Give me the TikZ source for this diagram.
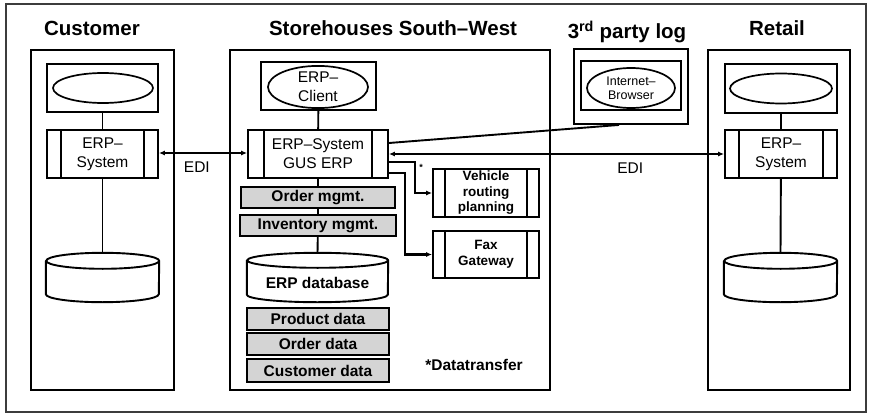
\documentclass[tikz,border=0pt]{standalone}
\usepackage{fontspec}
\setmainfont{Liberation Sans}
\usepackage{xcolor}
\usetikzlibrary{shapes.geometric,arrows.meta}
\definecolor{boxgray}{RGB}{212,212,212}
\definecolor{framegray}{RGB}{60,60,60}
% database drum round a plain node: #1 node, #2 x radius, #3 y radius
\newcommand\dbdraw[3]{\draw[line width=1.9pt]
  ([yshift=-#3]#1.north west) -- ([yshift=#3]#1.south west)
  arc[start angle=180, end angle=360, x radius=#2, y radius=#3]
  -- ([yshift=-#3]#1.north east)
  arc[start angle=0, end angle=180, x radius=#2, y radius=#3]
  arc[start angle=180, end angle=360, x radius=#2, y radius=#3];}

\begin{document}
\begin{tikzpicture}[x=1pt, y=-1pt,
    colbox/.style={draw, line width=1.9pt, minimum width=#1, minimum height=340pt, inner sep=0pt},
    monbox/.style={draw, line width=1.9pt, inner sep=0pt},
    scrn/.style={ellipse, draw, line width=1.7pt, inner sep=0pt, align=center},
    proc/.style={draw, line width=1.9pt, inner sep=0pt, align=center, minimum height=48pt,
                 path picture={
                   \draw[line width=1.9pt] ([xshift=#1]path picture bounding box.north west) -- ([xshift=#1]path picture bounding box.south west);
                   \draw[line width=1.9pt] ([xshift=-#1]path picture bounding box.north east) -- ([xshift=-#1]path picture bounding box.south east);}},
    proc/.default=14pt,
    graybox/.style={draw, line width=1.3pt, fill=boxgray, inner sep=0pt, font=\boldlbl},
    dbase/.style={inner sep=0pt, minimum height=49pt, minimum width=#1},
    link/.style={line width=1.9pt},
    arr/.style={{Latex[length=6pt,width=5pt]}-{Latex[length=6pt,width=5pt]}, line width=2.2pt},
    tarr/.style={-{Latex[length=6pt,width=5pt]}, line width=2.2pt},
    ttl/.style={font=\ttlfont, anchor=base}
  ]
\newcommand\ttlfont{\fontsize{20.5}{24}\selectfont\bfseries}
\newcommand\reglbl{\fontsize{15.5}{19}\selectfont}
\newcommand\boldlbl{\fontsize{15.5}{18}\selectfont\bfseries}
\newcommand\smlbl{\fontsize{13.5}{15.5}\selectfont\bfseries}
\useasboundingbox (0,0) rectangle (872,417);
    % Outer frame
    \node[draw=framegray, line width=2.4pt, minimum width=860pt, minimum height=408pt] (frame) at (436,208) {};
    % Titles
    \node[ttl] (tcust) at (92,36) {Customer};
    \node[ttl] (tstore) at (393,36) {Storehouses South--West};
    \node[ttl] (tthird) at (627,39) {3\textsuperscript{rd} party log};
    \node[ttl] (tretail) at (777,36) {Retail};
    % Columns
    \node[colbox=143pt] (cust) at (102.5,220) {};
    \node[colbox=320pt] (store) at (390,220) {};
    \node[colbox=142pt] (retail) at (779,220) {};
    \node[draw, line width=1.9pt, minimum width=114pt, minimum height=75pt] (third) at (631,86.5) {};
    % Customer
    \node[monbox, minimum width=111pt, minimum height=48pt] (custmon) at (102.5,88) {};
    \node[scrn, minimum width=100pt, minimum height=30pt] (custscr) at (103,88) {};
    \node[proc, minimum width=111pt, font=\reglbl] (custsys) at (102.5,154) {ERP--\\System};
    \node[dbase=113pt] (custdb) at (102.5,277.5) {};
    \dbdraw{custdb}{56.5pt}{8pt}
    % Storehouses
    \node[monbox, minimum width=115pt, minimum height=48pt] (erpmon) at (318.5,86) {};
    \node[scrn, minimum width=100pt, minimum height=38pt, font=\reglbl] (erpscr) at (318,87) {ERP--\\Client};
    \node[proc=16pt, minimum width=140pt, font=\reglbl] (gussys) at (318,154) {ERP--System\\GUS ERP};
    \node[graybox, minimum width=154pt, minimum height=21pt] (ordm) at (318,197.5) {Order mgmt.};
    \node[graybox, minimum width=156pt, minimum height=21pt] (invm) at (318,225.5) {Inventory mgmt.};
    \node[dbase=141pt] (erpdb) at (317.5,277.5) {};
    \dbdraw{erpdb}{70.5pt}{7.5pt}
    \node[font=\boldlbl] (erpdbtxt) at (317.5,283) {ERP database};
    \node[graybox, minimum width=142pt, minimum height=22pt] (proddata) at (318,319) {Product data};
    \node[graybox, minimum width=142pt, minimum height=22pt] (orddata) at (318,344) {Order data};
    \node[graybox, minimum width=142pt, minimum height=23pt] (custdata) at (318,370.5) {Customer data};
    \node[proc=12pt, minimum width=106pt, font=\smlbl] (vrp) at (486,193) {Vehicle\\routing\\planning};
    \node[proc=12pt, minimum width=106pt, minimum height=47pt, font=\smlbl] (fax) at (486,254.5) {Fax\\Gateway};
    \node[font=\boldlbl] (note) at (474,365) {*Datatransfer};
    \node[font=\fontsize{9}{10}\selectfont\bfseries] (star) at (421,167) {*};
    % 3rd party log
    \node[monbox, minimum width=100pt, minimum height=49pt] (thirdmon) at (631,85.5) {};
    \node[scrn, minimum width=88pt, minimum height=40pt, font=\fontsize{12.5}{14}\selectfont] (browser) at (631,88) {Internet--\\Browser};
    % Retail
    \node[monbox, minimum width=112pt, minimum height=49pt] (retmon) at (781,88.5) {};
    \node[scrn, minimum width=102pt, minimum height=30pt] (retscr) at (781,88.5) {};
    \node[proc, minimum width=112pt, font=\reglbl] (retsys) at (781,154) {ERP--\\System};
    \node[dbase=113pt] (retdb) at (780.5,277.5) {};
    \dbdraw{retdb}{56.5pt}{8pt}
    % Links
    \draw[link] (custmon) -- (custsys);
    \draw[link] (custsys) -- (custdb.north);
    \draw[link] (erpmon) -- (gussys);
    \draw[link] (gussys) -- (ordm);
    \draw[link] (ordm) -- (invm);
    \draw[link] (invm) -- (erpdb.north);
    \draw[link] (retmon) -- (retsys);
    \draw[link] (retsys) -- (retdb.north);
    % EDI
    \draw[arr] ([yshift=1pt]custsys.east) -- node[pos=0.43, below=4pt, font=\reglbl] {EDI} ([yshift=1pt]gussys.west);
    \draw[arr] (gussys.east) -- node[pos=0.72, below=4pt, font=\reglbl] {EDI} (retsys.west);
    % Datatransfer
    \draw[link] ([yshift=11pt]gussys.east) -- ([xshift=-12pt]third.south);
    \draw[tarr] ([yshift=-8pt]gussys.east) -- ++(26,0) |- (vrp.west);
    \draw[tarr] ([yshift=-19pt]gussys.east) -- ++(16,0) |- (fax.west);
\end{tikzpicture}
\end{document}
